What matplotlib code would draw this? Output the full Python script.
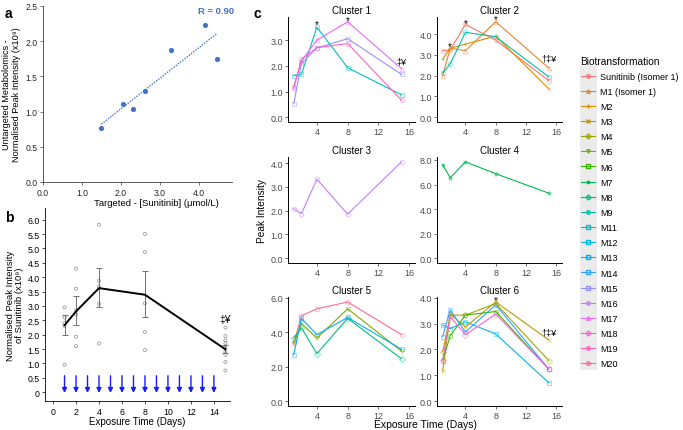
import matplotlib
matplotlib.use('Agg')
import matplotlib.pyplot as plt
import numpy as np
from matplotlib.lines import Line2D
from matplotlib.patches import Rectangle
from matplotlib.ticker import MultipleLocator, FormatStrFormatter, FuncFormatter

plt.rcParams['font.family'] = ['Liberation Sans', 'DejaVu Sans']

# ---- panel a: targeted vs untargeted
targeted_conc = [1.50, 2.05, 2.32, 2.62, 3.28, 4.15, 4.47]
untargeted_peak = [0.76, 1.11, 1.03, 1.29, 1.88, 2.23, 1.75]

# ---- panel b: sunitinib over time
days_b = [1, 2, 4, 8, 15]
mean_b = [2.33, 2.81, 3.62, 3.39, 1.49]
err_lo_b = [1.98, 2.33, 2.95, 2.63, 1.35]
err_hi_b = [2.68, 3.33, 4.31, 4.20, 1.65]
reps_day1 = [0.95, 2.30, 2.40, 2.60, 2.95]
reps_day2 = [1.60, 1.93, 2.70, 2.85, 3.60, 4.30]
reps_day4 = [1.69, 3.07, 3.67, 3.88, 5.83]
reps_day8 = [1.46, 2.10, 3.09, 4.87, 5.51]
reps_day15 = [0.75, 1.05, 1.30, 1.40, 1.55, 1.70, 1.80, 1.95, 2.25]
dose_days = list(range(1, 15))

# ---- panel c: biotransformation clusters
days_c = [1, 2, 4, 8, 15]
series_names = ['Sunitinib (Isomer 1)', 'M1 (Isomer 1)', 'M2', 'M3', 'M4', 'M5', 'M6', 'M7',
                'M8', 'M9', 'M11', 'M12', 'M13', 'M14', 'M15', 'M16', 'M17', 'M18', 'M19', 'M20']
series_colors = ['#F8766D', '#EA8331', '#D89000', '#C09B00', '#A3A500', '#7CAE00', '#39B600',
                 '#00BB4E', '#00BF7D', '#00C1A3', '#00BFC4', '#00BAE0', '#00B0F6', '#35A2FF',
                 '#9590FF', '#C77CFF', '#E76BF3', '#FA62DB', '#FF62BC', '#FF6C91']
series_markers = ['o', '^', '+', 'x', 'D', 'v', 's', '*', 'D', 'o',
                  's', 's', 's', 's', 's', 'o', '^', 'D', 'o', 'o']
sunitinib = [3.19, 3.24, 4.46, 3.71, 1.76]
m1 = [2.00, 3.32, 3.20, 4.59, 2.37]
m2 = [2.79, 3.32, 3.51, 3.90, 1.37]
m3 = [1.17, 3.37, 2.87, 3.84, 2.37]
m4 = [1.90, 3.33, 3.33, 3.78, 1.57]
m5 = [3.35, 4.50, 3.65, 5.35, 2.90]
m6 = [1.57, 2.53, 3.33, 3.47, 1.24]
m7 = [7.60, 6.55, 7.85, 6.88, 5.30]
m8 = [3.65, 4.25, 2.75, 4.80, 2.45]
m9 = [2.13, 2.57, 4.08, 3.87, 1.94]
m11 = [1.61, 1.67, 3.51, 1.93, 0.87]
m12 = [2.95, 2.81, 3.07, 2.60, 0.71]
m13 = [2.70, 4.80, 3.85, 4.85, 3.00]
m14 = [2.50, 3.53, 2.67, 3.73, 1.24]
m15 = [0.53, 2.10, 2.70, 3.06, 1.67]
m16 = [2.08, 1.87, 3.32, 1.85, 4.05]
m17 = [1.20, 2.20, 3.00, 3.72, 1.89]
m18 = [1.60, 3.27, 2.57, 3.37, 1.24]
m19 = [1.13, 2.25, 2.71, 2.87, 0.66]
m20 = [3.35, 4.95, 5.35, 5.75, 3.85]
series_values = [sunitinib, m1, m2, m3, m4, m5, m6, m7, m8, m9,
                 m11, m12, m13, m14, m15, m16, m17, m18, m19, m20]

cluster_members = [['M11', 'M15', 'M17', 'M19'],
                   ['Sunitinib (Isomer 1)', 'M1 (Isomer 1)', 'M2', 'M9'],
                   ['M16'],
                   ['M7'],
                   ['M20', 'M5', 'M13', 'M8'],
                   ['M3', 'M4', 'M6', 'M12', 'M14', 'M18']]
cluster_tick_step = [1, 1, 1, 2, 2, 1]
# (cluster index, day, y, text)
cluster_marks = [(0, 4, 3.72, '*'), (0, 8, 3.88, '*'), (0, 15, 2.18, '‡¥'),
                 (1, 2, 3.52, '*'), (1, 4, 4.65, '*'), (1, 8, 4.80, '*'), (1, 15, 2.85, '†‡¥'),
                 (5, 8, 3.98, '*'), (5, 15, 2.68, '†‡¥')]

W, H = 683, 431
fig = plt.figure(figsize=(W / 100, H / 100), dpi=100)


def px_axes(l, t, r, b):
    a = fig.add_axes([l / W, 1 - b / H, (r - l) / W, (b - t) / H])
    a.patch.set_visible(False)
    return a


# ================= panel a
blue_a = '#4472C4'
ax = px_axes(43, 7, 232, 183)
ax.scatter(targeted_conc, untargeted_peak, s=14, color=blue_a, zorder=3, linewidths=0)
coef = np.polyfit(targeted_conc, untargeted_peak, 1)
xs = np.array([min(targeted_conc), max(targeted_conc)])
ax.plot(xs, np.polyval(coef, xs), ls=(0, (1, 1)), color=blue_a, lw=1.0)
r_val = np.corrcoef(targeted_conc, untargeted_peak)[0, 1]
ax.text(4.45, 2.44, f'R = {r_val:.2f}', color=blue_a, fontsize=6.8, fontweight='bold',
        ha='center', va='center', clip_on=False)
ax.set_xlim(0, 4.85)
ax.set_ylim(0, 2.5)
ax.set_xticks([0, 1, 2, 3, 4])
ax.set_yticks(np.arange(0, 2.51, 0.5))
ax.xaxis.set_major_formatter(FormatStrFormatter('%.1f'))
ax.yaxis.set_major_formatter(FormatStrFormatter('%.1f'))
for s in ['top', 'right']:
    ax.spines[s].set_visible(False)
for s in ['left', 'bottom']:
    ax.spines[s].set_color('#404040')
    ax.spines[s].set_linewidth(0.6)
ax.tick_params(labelsize=6.2, length=2, width=0.5, colors='#404040', labelcolor='#262626', pad=2)
ax.set_xlabel('Targeted - [Sunitinib] (μmol/L)', fontsize=6.8, va='center')
ax.xaxis.set_label_coords((156 - 43) / 189, -(203 - 183) / 176)
ax.set_ylabel('Untargeted Metabolomics -\nNormalised Peak Intensity (x10⁹)', fontsize=6.6,
              labelpad=3, linespacing=1.1)

# ================= panel b
ax = px_axes(45, 209, 230, 402)
all_reps = [reps_day1, reps_day2, reps_day4, reps_day8, reps_day15]
for d, reps in zip(days_b, all_reps):
    ax.scatter([d] * len(reps), reps, s=5, facecolors='none', edgecolors='#8c8c8c',
               linewidths=0.5, zorder=2)
mean_arr = np.array(mean_b)
yerr = [mean_arr - np.array(err_lo_b), np.array(err_hi_b) - mean_arr]
ax.errorbar(days_b, mean_b, yerr=yerr, fmt='none', ecolor='#707070', elinewidth=0.7,
            capsize=2.5, capthick=0.7, zorder=3)
ax.plot(days_b, mean_b, color='black', lw=1.4, zorder=4)
for d in dose_days:
    ax.annotate('', xy=(d, -0.03), xytext=(d, 0.57),
                arrowprops=dict(arrowstyle='-|>', color='#1a1aff', lw=1.0,
                                mutation_scale=7, shrinkA=0, shrinkB=0))
ax.text(15, 2.55, '‡¥', fontsize=7.5, ha='center', va='center')
ax.set_xlim(-0.7, 15.4)
ax.set_ylim(-0.31, 6.41)
ax.set_xticks(np.arange(0, 15, 2))
ax.set_yticks(np.arange(0, 6.01, 0.5))
ax.yaxis.set_major_formatter(FuncFormatter(lambda v, p: '0' if v == 0 else f'{v:.1f}'))
for s in ['top', 'right']:
    ax.spines[s].set_visible(False)
for s in ['left', 'bottom']:
    ax.spines[s].set_linewidth(0.6)
ax.tick_params(labelsize=6.3, length=2, width=0.5, pad=2)
ax.set_xlabel('Exposure Time (Days)', fontsize=7, va='center')
ax.xaxis.set_label_coords(0.5, -(422 - 402) / 193)
ax.set_ylabel('Normalised Peak Intensity\nof Sunitinib (x10⁹)', fontsize=6.8, labelpad=2,
              linespacing=1.1)

# ================= panel c
col_px = [(288, 415), (437, 562)]
row_px = [(18, 123), (158, 264), (298, 407)]
name_idx = {n: i for i, n in enumerate(series_names)}
c_axes = []
for k, members in enumerate(cluster_members):
    l, r = col_px[k % 2]
    t, b = row_px[k // 2]
    ax = px_axes(l, t, r, b)
    c_axes.append(ax)
    hi = 0
    for name in members:
        i = name_idx[name]
        vals = series_values[i]
        hi = max(hi, max(vals))
        mk = series_markers[i]
        filled = mk in ('+', 'x', '*')
        ax.plot(days_c, vals, color=series_colors[i], lw=0.8, zorder=3)
        ax.plot(days_c, vals, ls='none', marker=mk, ms=3.2, mew=0.7,
                color=series_colors[i], mfc=series_colors[i] if filled else 'none',
                alpha=0.45, zorder=2)
    pad = 0.05 * hi
    ax.set_ylim(-pad, hi + pad)
    ax.set_xlim(0.25, 16.75)
    ax.set_xticks([4, 8, 12, 16])
    ax.yaxis.set_major_locator(MultipleLocator(cluster_tick_step[k]))
    ax.yaxis.set_major_formatter(FormatStrFormatter('%.1f'))
    for s in ['top', 'right']:
        ax.spines[s].set_visible(False)
    for s in ['left', 'bottom']:
        ax.spines[s].set_linewidth(0.7)
    ax.tick_params(labelsize=6.5, length=2, width=0.5, colors='#333333',
                   labelcolor='#4d4d4d', pad=1.5)
    ax.set_title(f'Cluster {k + 1}', fontsize=7, pad=3)

for k, d, y, txt in cluster_marks:
    c_axes[k].annotate(txt, (d, y), xytext=(0, -1.5 if txt == '*' else 0),
                       textcoords='offset points', fontsize=7 if txt == '*' else 6.5,
                       ha='center', va='center', zorder=5)

fig.text(425 / W, 1 - 425 / H, 'Exposure Time (Days)', fontsize=7.5, ha='center', va='center')
fig.text(262 / W, 1 - 211 / H, 'Peak Intensity', fontsize=7.3, ha='center', va='center',
         rotation=90)

# legend
handles = [Line2D([], [], color=c, marker=m, ms=2.5, lw=0.8,
                  mfc=c if m in ('+', 'x', '*') else 'none')
           for c, m in zip(series_colors, series_markers)]
fig.add_artist(Rectangle((580 / W, 1 - 371 / H), 17 / W, 304 / H, transform=fig.transFigure,
                         facecolor='#ebebeb', edgecolor='none', zorder=0))
leg = fig.legend(handles, series_names, loc='upper left', bbox_to_anchor=(577 / W, 1 - 53 / H),
                 frameon=False, fontsize=6.5, title='Biotransformation', title_fontsize=7.3,
                 handlelength=1.6, handletextpad=0.6, labelspacing=0.68, borderaxespad=0)
leg._legend_box.align = 'left'

# panel letters
fig.text(5 / W, 1 - 14 / H, 'a', fontsize=10, fontweight='bold', va='center')
fig.text(5 / W, 1 - 218 / H, 'b', fontsize=10, fontweight='bold', va='center')
fig.text(254 / W, 1 - 14 / H, 'c', fontsize=10, fontweight='bold', va='center')

fig.savefig('out.png', dpi=100)
